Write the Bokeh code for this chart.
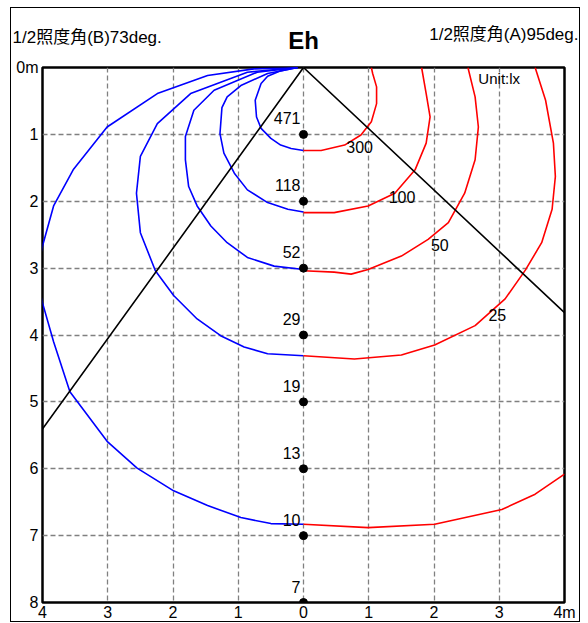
import math
from bokeh.plotting import figure
from bokeh.models import Range1d, FixedTicker, Label, Title
from bokeh.core.properties import value
from bokeh.embed import file_html
from bokeh.resources import INLINE

# ---------------- data ----------------
x_ticks = [-4, -3, -2, -1, 0, 1, 2, 3, 4]
x_tick_labels = ["4", "3", "2", "1", "0", "1", "2", "3", "4m"]
y_ticks = [0, 1, 2, 3, 4, 5, 6, 7, 8]
y_tick_labels = ["0m", "1", "2", "3", "4", "5", "6", "7", "8"]

center_y = [1, 2, 3, 4, 5, 6, 7, 8]
center_vals = [471, 118, 52, 29, 19, 13, 10, 7]

half_angle_b = 73   # deg (left, blue)
half_angle_a = 95   # deg (right, red)

levels = [300, 100, 50, 25, 10]

# B plane (left, blue) contours
b300_x = [-0.09, -0.35, -0.55, -0.65, -0.74, -0.72, -0.65, -0.50, -0.35, -0.19, 0.0]
b300_y = [0.0, 0.05, 0.13, 0.24, 0.49, 0.74, 0.91, 1.06, 1.16, 1.21, 1.24]
b100_x = [-0.09, -0.55, -0.96, -1.17, -1.25, -1.28, -1.22, -1.06, -0.86, -0.55, -0.24, 0.0]
b100_y = [0.0, 0.09, 0.27, 0.44, 0.60, 0.99, 1.28, 1.58, 1.83, 2.02, 2.12, 2.16]
b50_x = [-0.09, -0.71, -1.37, -1.68, -1.81, -1.81, -1.76, -1.63, -1.42, -1.17, -0.86, -0.45, 0.0]
b50_y = [0.0, 0.07, 0.34, 0.64, 1.03, 1.38, 1.78, 2.07, 2.37, 2.62, 2.84, 2.97, 3.02]
b25_x = [-0.09, -0.86, -1.73, -2.24, -2.50, -2.56, -2.50, -2.27, -1.99, -1.63, -1.27, -0.91, -0.55, 0.0]
b25_y = [0.0, 0.07, 0.39, 0.84, 1.33, 1.88, 2.47, 3.04, 3.41, 3.76, 4.01, 4.18, 4.28, 4.31]
b10_x = [-0.09, -0.76, -1.47, -2.24, -3.01, -3.53, -3.83, -4.0, -4.1, -4.0, -3.83, -3.58, -3.01, -2.55, -1.99, -1.47, -0.96, -0.50, 0.0]
b10_y = [0.0, 0.02, 0.12, 0.39, 0.89, 1.53, 2.07, 2.67, 3.10, 3.52, 4.10, 4.85, 5.59, 5.99, 6.33, 6.55, 6.73, 6.82, 6.83]

# A plane (right, red) contours
r300_x = [0.0, 0.27, 0.63, 0.88, 1.04, 1.12, 1.12, 1.06, 1.04]
r300_y = [1.24, 1.24, 1.16, 1.01, 0.81, 0.54, 0.29, 0.09, 0.0]
r100_x = [0.0, 0.47, 0.99, 1.40, 1.71, 1.88, 1.94, 1.88, 1.81]
r100_y = [2.17, 2.17, 2.07, 1.88, 1.53, 1.13, 0.74, 0.39, 0.0]
r50_x = [0.0, 0.47, 0.73, 0.99, 1.50, 1.91, 2.22, 2.47, 2.63, 2.68, 2.63, 2.52]
r50_y = [3.04, 3.06, 3.09, 3.02, 2.82, 2.57, 2.32, 1.88, 1.38, 0.89, 0.44, 0.0]
r25_x = [0.0, 0.78, 1.50, 2.01, 2.63, 3.09, 3.40, 3.65, 3.81, 3.86, 3.83, 3.71, 3.55]
r25_y = [4.31, 4.36, 4.30, 4.15, 3.86, 3.46, 3.03, 2.62, 2.12, 1.63, 1.13, 0.49, 0.0]
r10_x = [0.0, 0.99, 2.01, 3.04, 3.55, 4.0]
r10_y = [6.83, 6.88, 6.83, 6.61, 6.38, 6.08]

contour_label_text = ["300", "100", "50", "25"]
contour_label_x = [0.86, 1.51, 2.09, 2.97]
contour_label_y = [1.19, 1.93, 2.65, 3.70]

title_text = "Eh"
left_text = "1/2照度角(B)73deg."
right_text = "1/2照度角(A)95deg."
unit_text = "Unit:lx"

FONT = "Liberation Sans, Noto Sans CJK JP, sans-serif"

# ---------------- figure ----------------
p = figure(width=570, height=615,
           x_range=Range1d(-4, 4), y_range=Range1d(8, 0),
           output_backend="svg", toolbar_location=None,
           min_border_left=31, min_border_right=17,
           min_border_top=59, min_border_bottom=20)
p.styles = {"border": "1px solid black", "margin": "7px 0px 0px 10px"}
p.background_fill_color = "white"
p.border_fill_color = "white"
p.outline_line_color = "black"
p.outline_line_width = 2.5

for ax, ticks, labs in ((p.xaxis, x_ticks, x_tick_labels), (p.yaxis, y_ticks, y_tick_labels)):
    ax.ticker = FixedTicker(ticks=ticks)
    ax.major_label_overrides = {t: l for t, l in zip(ticks, labs)}
    ax.axis_line_color = None
    ax.major_tick_line_color = None
    ax.minor_tick_line_color = None
    ax.major_tick_out = 0
    ax.major_tick_in = 0
    ax.minor_tick_out = 0
    ax.minor_tick_in = 0
    ax.major_label_text_font = FONT
    ax.major_label_text_font_size = "16px"
    ax.major_label_text_color = "black"
p.xaxis.major_label_standoff = 1
p.yaxis.major_label_standoff = 4

p.xgrid.ticker = FixedTicker(ticks=x_ticks)
p.ygrid.ticker = FixedTicker(ticks=y_ticks)
for g in (p.xgrid, p.ygrid):
    g.grid_line_color = "#808080"
    g.grid_line_width = 1.3
    g.grid_line_dash = "5 3"

# contours
p.multi_line(xs=[b300_x, b100_x, b50_x, b25_x, b10_x],
             ys=[b300_y, b100_y, b50_y, b25_y, b10_y],
             line_color="#0000ff", line_width=1.6, line_join="round")
p.multi_line(xs=[r300_x, r100_x, r50_x, r25_x, r10_x],
             ys=[r300_y, r100_y, r50_y, r25_y, r10_y],
             line_color="#ff0000", line_width=1.6, line_join="round")

# half illuminance angle lines
far = 8.0
tb = math.tan(math.radians(half_angle_b / 2))
ta = math.tan(math.radians(half_angle_a / 2))
p.line(x=[-far * tb, 0, far * ta], y=[far, 0, far], line_color="black", line_width=1.6)

# center points and values
p.scatter(x=[0] * len(center_y), y=center_y, size=8, color="black")
p.text(x=[0] * len(center_y), y=center_y, text=[str(v) for v in center_vals],
       text_align="right", text_baseline="alphabetic", x_offset=-3, y_offset=-16,
       text_font=value(FONT), text_font_size="16px", text_color="black")

# contour labels
p.text(x=contour_label_x, y=contour_label_y, text=contour_label_text,
       text_align="center", text_baseline="middle",
       text_font=value(FONT), text_font_size="16px", text_color="black")

p.add_layout(Label(x=2.68, y=0.16, text=unit_text, text_align="left", text_baseline="middle",
                   text_font=FONT, text_font_size="15px", text_color="black"))

# heading texts
p.add_layout(Label(x=0, y=-0.4, text=title_text, text_align="center", text_baseline="middle",
                   text_font=FONT, text_font_size="24px", text_font_style="bold",
                   text_color="black"), "above")
p.add_layout(Title(text=left_text, align="left", vertical_align="middle", offset=-30,
                   standoff=-15, text_font=FONT, text_font_size="17px",
                   text_font_style="normal", text_color="black"), "above")
p.add_layout(Title(text=right_text, align="right", vertical_align="middle", offset=-14,
                   standoff=-27, text_font=FONT, text_font_size="17px",
                   text_font_style="normal", text_color="black"), "above")

open("out.html", "w").write(file_html(p, INLINE))
